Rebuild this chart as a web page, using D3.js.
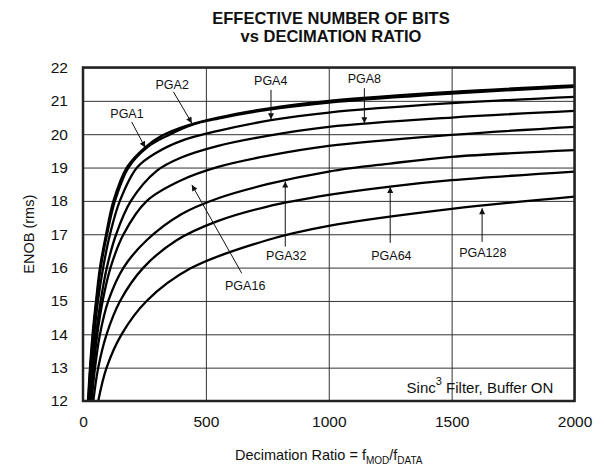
<!DOCTYPE html>
<html>
<head>
<meta charset="utf-8">
<script src="https://cdn.jsdelivr.net/npm/d3@7"></script>
<style>
  body { margin: 0; background: #fff; }
  text { font-family: Arial, "Liberation Sans", Helvetica, sans-serif; fill: #111; }
</style>
</head>
<body>
<div id="chart"></div>
<script>
// ---------------- data ----------------
const seriesNames = ['PGA1', 'PGA2', 'PGA4', 'PGA8', 'PGA16', 'PGA32', 'PGA64', 'PGA128']

// decimation ratio / ENOB pairs for every gain setting
const pga1Ratio = [20, 28.5, 39, 53, 69, 94, 124, 178, 252, 320, 420, 550, 750, 1000, 1500, 2000]
const pga1Enob  = [12, 13, 14, 15, 16, 17, 18, 19, 19.6, 19.95, 20.25, 20.5, 20.77, 21.0, 21.27, 21.46]
const pga2Ratio = [22, 30, 41, 55, 72, 98, 130, 185, 260, 350, 443, 550, 750, 1000, 1500, 2000]
const pga2Enob  = [12, 13, 14, 15, 16, 17, 18, 19, 19.6, 19.98, 20.28, 20.47, 20.73, 20.95, 21.22, 21.42]
const pga4Ratio = [25, 35, 46, 61, 82, 110, 150, 220, 300, 400, 550, 765, 1000, 1500, 2000]
const pga4Enob  = [12, 13, 14, 15, 16, 17, 18, 19, 19.45, 19.8, 20.1, 20.42, 20.65, 20.93, 21.12]
const pga8Ratio = [28, 40, 53, 72, 97, 135, 195, 300, 400, 550, 750, 1000, 1500, 2000]
const pga8Enob  = [12, 13, 14, 15, 16, 17, 18, 18.9, 19.3, 19.65, 19.95, 20.22, 20.5, 20.7]
const pga16Ratio = [31, 43, 58, 80, 112, 165, 260, 400, 550, 750, 1000, 1500, 2000]
const pga16Enob  = [12, 13, 14, 15, 16, 17, 18, 18.62, 19.02, 19.35, 19.65, 19.98, 20.22]
const pga32Ratio = [35, 49, 69, 103, 165, 259, 400, 550, 750, 1000, 1250, 1500, 2000]
const pga32Enob  = [12, 13, 14, 15, 16, 16.82, 17.6, 18.08, 18.5, 18.88, 19.12, 19.32, 19.52]
const pga64Ratio = [42, 62, 96, 151, 246, 381, 550, 750, 1000, 1250, 1500, 2000]
const pga64Enob  = [12, 13, 14, 15, 16, 16.82, 17.4, 17.83, 18.18, 18.43, 18.62, 18.88]
const pga128Ratio = [62, 96, 157, 259, 436, 748, 1000, 1500, 2000]
const pga128Enob  = [12, 13, 14, 15, 15.97, 16.82, 17.25, 17.76, 18.13]

const xTicks = [0, 500, 1000, 1500, 2000]
const yTicks = [12, 13, 14, 15, 16, 17, 18, 19, 20, 21, 22]

// label text, label anchor (ratio, enob), arrow tail and arrow tip (ratio, enob)
const labelText  = ['PGA1', 'PGA2', 'PGA4', 'PGA8', 'PGA16', 'PGA32', 'PGA64', 'PGA128']
const labelAt    = [[179, 20.49], [363, 21.36], [764, 21.48], [1145, 21.54], [660, 15.33], [827, 16.23], [1255, 16.23], [1627, 16.32]]
const arrowFrom  = [[198, 20.37], [368, 21.27], [765, 21.33], [1145, 21.38], [646, 15.83], [823, 16.63], [1250, 16.74], [1624, 16.77]]
const arrowTo    = [[253, 19.6], [443, 20.33], [765, 20.45], [1145, 20.33], [443, 18.48], [823, 18.58], [1250, 18.42], [1624, 17.78]]

////////////////////// build the chart //////////////////////
const width = 604
const height = 472
const margin = {top: 67.5, right: 29.5, bottom: 71, left: 83}
const plotW = width - margin.left - margin.right
const plotH = height - margin.top - margin.bottom

const series = [
  [pga1Ratio, pga1Enob], [pga2Ratio, pga2Enob], [pga4Ratio, pga4Enob], [pga8Ratio, pga8Enob],
  [pga16Ratio, pga16Enob], [pga32Ratio, pga32Enob], [pga64Ratio, pga64Enob], [pga128Ratio, pga128Enob]
].map(function(s, i){
  return {name: seriesNames[i], values: s[0].map(function(r, j){ return {r: r, e: s[1][j]} })}
})

const svg = d3.select('#chart').append('svg')
  .attr('width', width)
  .attr('height', height)

const x = d3.scaleLinear().domain([0, 2000]).range([0, plotW])
const y = d3.scaleLinear().domain([12, 22]).range([plotH, 0])

const g = svg.append('g').attr('transform', 'translate(' + margin.left + ',' + margin.top + ')')

svg.append('defs').append('clipPath').attr('id', 'plotClip')
  .append('rect').attr('width', plotW).attr('height', plotH)

svg.select('defs').append('marker')
  .attr('id', 'head')
  .attr('viewBox', '0 0 10 10')
  .attr('refX', 10).attr('refY', 5)
  .attr('markerWidth', 10).attr('markerHeight', 6)
  .attr('markerUnits', 'userSpaceOnUse')
  .attr('orient', 'auto')
  .append('path').attr('d', 'M0,0 L10,5 L0,10 Z').attr('fill', '#111')

// grid lines come from the axes, labels kept, domain hidden
const yAxis = g.append('g')
  .call(d3.axisLeft(y).tickValues(yTicks).tickSize(-plotW).tickPadding(15))
yAxis.select('.domain').remove()
yAxis.selectAll('line').attr('stroke', '#333').attr('stroke-width', 1)
yAxis.selectAll('text').style('font-size', '15.5px').attr('fill', '#111')

const xAxis = g.append('g')
  .attr('transform', 'translate(0,' + plotH + ')')
  .call(d3.axisBottom(x).tickValues(xTicks).tickFormat(d3.format('d')).tickSize(-plotH).tickPadding(15))
xAxis.select('.domain').remove()
xAxis.selectAll('line').attr('stroke', '#333').attr('stroke-width', 1)
xAxis.selectAll('text').style('font-size', '15.5px').attr('fill', '#111')

// curves
const line = d3.line()
  .x(function(d){ return x(d.r) })
  .y(function(d){ return y(d.e) })
  .curve(d3.curveCatmullRom.alpha(0.5))

g.append('g').attr('clip-path', 'url(#plotClip)')
  .selectAll('path').data(series).enter().append('path')
  .attr('d', function(d){ return line(d.values) })
  .attr('fill', 'none')
  .attr('stroke', '#000')
  .attr('stroke-width', 2.3)

// frame
g.append('rect')
  .attr('width', plotW).attr('height', plotH)
  .attr('fill', 'none').attr('stroke', '#222').attr('stroke-width', 2.5)

// labels with arrows
const notes = g.append('g')
notes.selectAll('line').data(labelText).enter().append('line')
  .attr('x1', function(d, i){ return x(arrowFrom[i][0]) })
  .attr('y1', function(d, i){ return y(arrowFrom[i][1]) })
  .attr('x2', function(d, i){ return x(arrowTo[i][0]) })
  .attr('y2', function(d, i){ return y(arrowTo[i][1]) })
  .attr('stroke', '#111').attr('stroke-width', 1)
  .attr('marker-end', 'url(#head)')
notes.selectAll('text').data(labelText).enter().append('text')
  .attr('x', function(d, i){ return x(labelAt[i][0]) })
  .attr('y', function(d, i){ return y(labelAt[i][1]) })
  .attr('text-anchor', 'middle')
  .style('font-size', '12.5px')
  .text(function(d){ return d })

// filter note
const note = g.append('text')
  .attr('x', x(1914)).attr('y', y(12.235))
  .attr('text-anchor', 'end')
  .style('font-size', '15px')
note.append('tspan').text('Sinc')
note.append('tspan').attr('dy', -8).style('font-size', '11px').text('3')
note.append('tspan').attr('dy', 8).text(' Filter, Buffer ON')

// titles
svg.append('text').attr('x', 331).attr('y', 24).attr('text-anchor', 'middle')
  .style('font-size', '16.5px').style('font-weight', 'bold').text('EFFECTIVE NUMBER OF BITS')
svg.append('text').attr('x', 331).attr('y', 42).attr('text-anchor', 'middle')
  .style('font-size', '16.5px').style('font-weight', 'bold').text('vs DECIMATION RATIO')

svg.append('text')
  .attr('transform', 'translate(34,' + (margin.top + plotH / 2) + ') rotate(-90)')
  .attr('text-anchor', 'middle')
  .style('font-size', '14.5px')
  .text('ENOB (rms)')

const xl = svg.append('text')
  .attr('x', margin.left + plotW / 2).attr('y', 460)
  .attr('text-anchor', 'middle')
  .style('font-size', '14.5px')
xl.append('tspan').text('Decimation Ratio = f')
xl.append('tspan').attr('dy', 4).style('font-size', '10px').text('MOD')
xl.append('tspan').attr('dy', -4).text('/f')
xl.append('tspan').attr('dy', 4).style('font-size', '10px').text('DATA')
</script>
</body>
</html>
